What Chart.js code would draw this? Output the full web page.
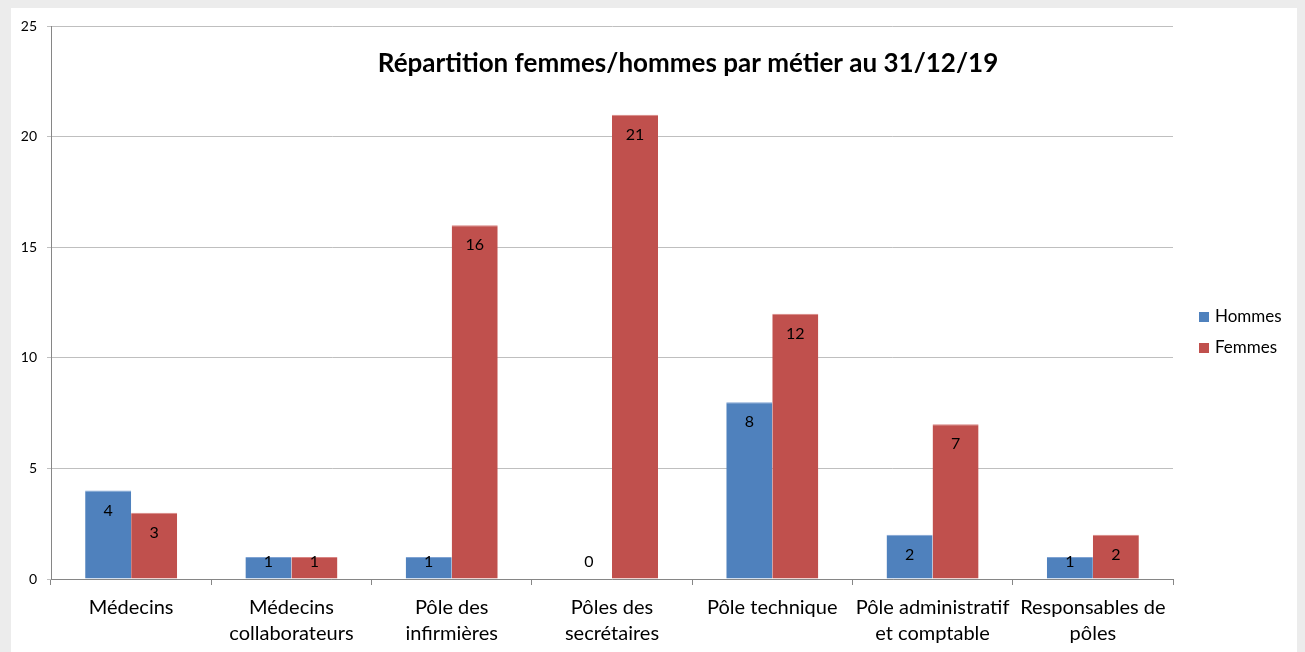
<!DOCTYPE html>
<html><head><meta charset="utf-8">
<script src="https://cdn.jsdelivr.net/npm/chart.js@4"></script>
<style>
html,body{margin:0;padding:0;background:#ececec;}
#wrap{position:absolute;left:11px;top:8px;width:1286px;height:644px;background:#fff;}
</style></head>
<body><div id="wrap"><canvas id="c"></canvas></div>
<script>
const categories = [["Médecins"],["Médecins","collaborateurs"],["Pôle des","infirmières"],["Pôles des","secrétaires"],["Pôle technique"],["Pôle administratif","et comptable"],["Responsables de","pôles"]];
const hommes = [4,1,1,0,8,2,1];
const femmes = [3,1,16,21,12,7,2];
const seriesNames = ["Hommes","Femmes"];
const seriesColors = ["#4f81bd","#c0504d"];
const titleText = "Répartition femmes/hommes par métier au 31/12/19";
const FONT = "Lato, 'Open Sans', sans-serif";

const overlay = {
  id:'overlay',
  afterDatasetsDraw(chart){
    const ctx = chart.ctx;
    const base = chart.scales.y.getPixelForValue(0);
    ctx.save();
    ctx.fillStyle = '#000';
    ctx.font = '16px ' + FONT;
    ctx.textAlign = 'center';
    ctx.textBaseline = 'middle';
    chart.data.datasets.forEach((ds,i)=>{
      chart.getDatasetMeta(i).data.forEach((bar,j)=>{
        const y = Math.min(bar.y + 20, base - 17);
        ctx.fillText(String(ds.data[j]), bar.x, y);
      });
    });
    // title
    ctx.font = 'bold 26px ' + FONT;
    ctx.fillText(titleText, 677, 56);
    // legend
    ctx.font = '17px ' + FONT;
    ctx.textAlign = 'left';
    chart.data.datasets.forEach((ds,i)=>{
      const y = 309 + i*31;
      ctx.fillStyle = ds.backgroundColor;
      ctx.fillRect(1188, y-5, 10, 10);
      ctx.fillStyle = '#000';
      ctx.fillText(ds.label, 1204, y);
    });
    ctx.restore();
  }
};

new Chart(document.getElementById('c'), {
  type:'bar',
  data:{
    labels: categories,
    datasets:[
      {label:seriesNames[0], data:hommes, backgroundColor:seriesColors[0], borderColor:'#7fa3d3', borderWidth:{top:1,left:0,right:0,bottom:0}},
      {label:seriesNames[1], data:femmes, backgroundColor:seriesColors[1], borderColor:'#d98583', borderWidth:{top:1,left:0,right:0,bottom:0}}
    ]
  },
  options:{
    responsive:true, maintainAspectRatio:false, animation:false,
    layout:{padding:{top:17,right:124,left:0,bottom:0}},
    datasets:{bar:{categoryPercentage:0.574, barPercentage:1}},
    plugins:{legend:{display:false}, title:{display:false}, tooltip:{enabled:false}},
    scales:{
      x:{
        offset:true,
        grid:{display:true, offset:true, drawOnChartArea:false, drawTicks:true, tickLength:6, color:'#868686'},
        border:{display:true, color:'#868686'},
        ticks:{font:{family:FONT, size:20, lineHeight:1.3}, color:'#000', padding:10, maxRotation:0, autoSkip:false},
        afterFit(s){ s.height = 73; }
      },
      y:{
        min:0, max:25,
        ticks:{stepSize:5, font:{family:FONT, size:14}, color:'#000', padding:10},
        grid:{color:'#bfbfbf', tickLength:4, drawTicks:true},
        border:{display:true, color:'#868686'},
        afterFit(s){ s.width = 40; }
      }
    }
  },
  plugins:[overlay]
});
</script></body></html>
